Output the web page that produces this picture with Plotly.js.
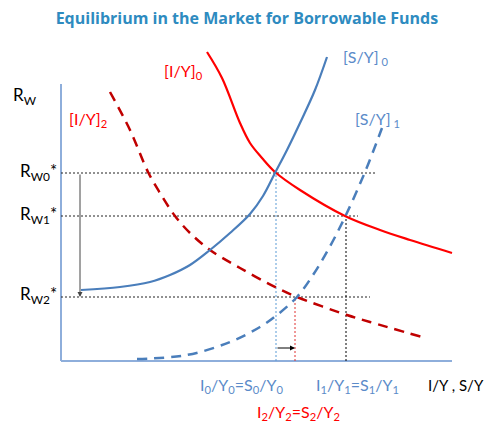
<!DOCTYPE html>
<html><head><meta charset="utf-8">
<script src="https://cdn.plot.ly/plotly-3.0.1.min.js"></script>
<style>html,body{margin:0;padding:0;background:#fff}#chart{width:487px;height:424px}</style>
</head><body><div id="chart"></div>
<script>
// Curve values (chart units: borrowable funds ratio on x, real rate Rw on y)
const invest0_x = [146,161,179,189,201,214,239,284,319,349,391];
const invest0_y = [309,283,238,218,203,189,171,145,131,121,108];
const invest2_x = [49,69,87,99,114,129,149,179,216,236,286,309,361];
const invest2_y = [269,231,189,168,145,128,111,93,73,64,46,39,24];
const save0_x = [20,59,89,109,129,149,169,189,202,214,226,239,254,266];
const save0_y = [71,74,79,86,96,111,128,147,165,188,211,238,271,304];
const save1_x = [76,126,169,199,216,236,252,267,284,304,321];
const save1_y = [2,6,19,34,46,64,86,111,144,189,233];
// equilibrium levels
const rw0 = 188, rw1 = 145, rw2 = 64;
const q0 = 215, q2 = 234, q1 = 285;
const axisTopY = 277, axisRightX = 391;

const FONT = 'Lato, "Open Sans", sans-serif';
const RED = '#ff0000', DRED = '#c00000', BLUE = '#4a7ebb', LBLUE = '#5b8bc9';

const traces = [
  {x: invest0_x, y: invest0_y, mode:'lines', line:{color:RED, width:2.2, shape:'spline', smoothing:1}},
  {x: invest2_x, y: invest2_y, mode:'lines', line:{color:DRED, width:2.5, shape:'spline', smoothing:1, dash:'10px,7px'}},
  {x: save0_x, y: save0_y, mode:'lines', line:{color:BLUE, width:2.2, shape:'spline', smoothing:1}},
  {x: save1_x, y: save1_y, mode:'lines', line:{color:BLUE, width:2.5, shape:'spline', smoothing:1, dash:'10px,7px'}}
];

const dot = {dash:'2px,2px', width:1};
const shapes = [
  {type:'line', x0:0, x1:0, y0:0, y1:axisTopY, line:{color:'#8eaedb', width:2}, layer:'below'},
  {type:'line', x0:0, x1:axisRightX, y0:0, y1:0, line:{color:'#8eaedb', width:2}, layer:'below'},
  {type:'line', x0:0, x1:316, y0:rw0, y1:rw0, line:Object.assign({color:'#222'}, dot), layer:'below'},
  {type:'line', x0:0, x1:297, y0:rw1, y1:rw1, line:Object.assign({color:'#222'}, dot), layer:'below'},
  {type:'line', x0:0, x1:309, y0:rw2, y1:rw2, line:Object.assign({color:'#222'}, dot), layer:'below'},
  {type:'line', x0:q0, x1:q0, y0:0, y1:rw0, line:Object.assign({color:'#5b9bd5'}, dot), layer:'below'},
  {type:'line', x0:q2, x1:q2, y0:0, y1:rw2, line:Object.assign({color:'#e03030'}, dot), layer:'below'},
  {type:'line', x0:q1, x1:q1, y0:0, y1:rw1, line:Object.assign({color:'#000'}, dot), layer:'below'}
];

function lab(text, x, y, color, xanchor, size){
  return {text:text, x:x, y:y, xref:'x', yref:'y', showarrow:false, xanchor:xanchor||'center', yanchor:'middle',
          font:{family:FONT, size:size||15, color:color}};
}
const annotations = [
  lab('R<sub>W</sub>', -50, 265, '#000', 'left', 17),
  lab('R<sub>W0</sub>*', -2, rw0+1, '#000', 'right', 17),
  lab('R<sub>W1</sub>*', -2, rw1+1, '#000', 'right', 17),
  lab('R<sub>W2</sub>*', -2, rw2+2, '#000', 'right', 17),
  lab('[I/Y]<sub>0</sub>', 101, 290, RED, 'left', 16),
  lab('[I/Y]<sub>2</sub>', 6, 242, RED, 'left', 16),
  lab('[S/Y]<sub> 0</sub>', 280, 304, LBLUE, 'left', 16),
  lab('[S/Y]<sub> 1</sub>', 292, 242, LBLUE, 'left', 16),
  lab('I<sub>0</sub>/Y<sub>0</sub>=S<sub>0</sub>/Y<sub>0</sub>', 181, -24, LBLUE, 'center', 16),
  lab('I<sub>1</sub>/Y<sub>1</sub>=S<sub>1</sub>/Y<sub>1</sub>', 296, -24, LBLUE, 'center', 16),
  lab('I/Y , S/Y', 425, -24, '#000', 'right', 15),
  lab('I<sub>2</sub>/Y<sub>2</sub>=S<sub>2</sub>/Y<sub>2</sub>', 237, -51, RED, 'center', 16),
  {x:19, y:rw2, ax:19, ay:rw0, xref:'x', yref:'y', axref:'x', ayref:'y', text:'', showarrow:true,
   arrowhead:2, arrowsize:1, arrowwidth:1, arrowcolor:'#444'},
  {x:q2, y:13, ax:q0, ay:13, xref:'x', yref:'y', axref:'x', ayref:'y', text:'', showarrow:true,
   arrowhead:2, arrowsize:1, arrowwidth:1, arrowcolor:'#000'}
];

const layout = {
  width:487, height:424,
  margin:{l:0, r:0, t:0, b:0},
  paper_bgcolor:'#fff', plot_bgcolor:'#fff',
  showlegend:false,
  title:{text:'<b>Equilibrium in the Market for Borrowable Funds</b>', x:0.507, xanchor:'center', y:1-18/424, yanchor:'middle',
         font:{family:'"Open Sans", sans-serif', size:16, color:'#2e8bc0'}},
  xaxis:{range:[-61,426], visible:false, fixedrange:true},
  yaxis:{range:[-63,361], visible:false, fixedrange:true},
  shapes:shapes, annotations:annotations
};
Plotly.newPlot('chart', traces, layout, {staticPlot:true, displayModeBar:false});
</script></body></html>
